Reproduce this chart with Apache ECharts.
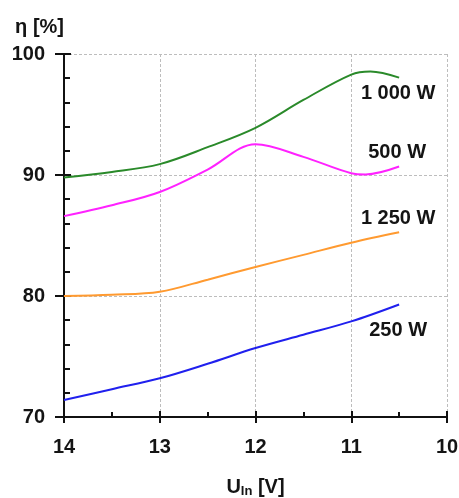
<!DOCTYPE html>
<html>
<head>
<meta charset="utf-8">
<script src="https://cdn.jsdelivr.net/npm/echarts@6/dist/echarts.min.js"></script>
<style>
  html, body { margin: 0; padding: 0; background: #fff; }
  #chart { width: 459px; height: 498px; }
</style>
</head>
<body>
<div id="chart"></div>
<script>
// Efficiency versus input voltage for four load levels
const voltage1000 = [14, 13.5, 13, 12.5, 12, 11.5, 11, 10.8, 10.5];
const eff1000     = [89.8, 90.25, 90.9, 92.3, 93.9, 96.2, 98.3, 98.55, 98.05];

const voltage500  = [14, 13.5, 13, 12.5, 12, 11.5, 11, 10.85, 10.5];
const eff500      = [86.6, 87.5, 88.6, 90.45, 92.55, 91.5, 90.15, 90.05, 90.7];

const voltage1250 = [14, 13.5, 13, 12.5, 12, 11.5, 11, 10.5];
const eff1250     = [80.0, 80.1, 80.35, 81.35, 82.4, 83.4, 84.4, 85.26];

const voltage250  = [14, 13.5, 13, 12.5, 12, 11.5, 11, 10.5];
const eff250      = [71.4, 72.3, 73.2, 74.4, 75.7, 76.8, 77.9, 79.3];

const seriesNames = ['1 000 W', '500 W', '1 250 W', '250 W'];
const xTicks = [14, 13, 12, 11, 10];
const yTicks = [70, 80, 90, 100];

const FONT = 'Liberation Sans, Arial, sans-serif';
const TEXT = '#141414';

function buildSeries(name, xs, ys, color, labelOffset) {
  const last = xs.length - 1;
  return {
    name: name,
    type: 'line',
    xAxisIndex: 0,
    yAxisIndex: 0,
    smooth: 0.35,
    showSymbol: false,
    lineStyle: { color: color, width: 2 },
    itemStyle: { color: color },
    emphasis: { disabled: true },
    data: xs.map((x, i) => [x, ys[i]]),
    // series name written beside the curve's last point
    markPoint: {
      symbol: 'circle',
      symbolSize: 1,
      silent: true,
      itemStyle: { color: 'rgba(0,0,0,0)' },
      label: {
        show: true,
        formatter: name,
        position: 'inside',
        offset: labelOffset,
        color: TEXT,
        fontFamily: FONT,
        fontWeight: 'bold',
        fontSize: 20
      },
      data: [{ coord: [xs[last], ys[last]] }]
    },
    z: 3
  };
}

const tick = (len, inside, width) => ({
  show: true, inside: inside, length: len, lineStyle: { color: '#111', width: width }
});

const chart = echarts.init(document.getElementById('chart'), null, { renderer: 'canvas' });

chart.setOption({
  animation: false,
  backgroundColor: '#fff',
  grid: { left: 64, right: 12, top: 54, bottom: 81, outerBoundsMode: 'none', containLabel: false },
  xAxis: [
    {
      type: 'value', inverse: true, min: 10, max: 14, interval: 1,
      axisLine: { show: true, lineStyle: { color: '#111', width: 2 } },
      axisTick: tick(6, false, 2),
      axisLabel: {
        margin: 20, color: TEXT, fontFamily: FONT, fontWeight: 'bold', fontSize: 20,
        formatter: v => xTicks.includes(v) ? String(v) : ''
      },
      splitLine: { show: true, lineStyle: { color: '#bdbdbd', type: [3, 2], width: 1 } },
      name: 'U{sub|In} [V]',
      nameLocation: 'middle',
      nameGap: 70,
      nameTextStyle: {
        color: TEXT, fontFamily: FONT, fontWeight: 'bold', fontSize: 20, verticalAlign: 'middle',
        rich: { sub: { fontFamily: FONT, fontWeight: 'bold', fontSize: 13, color: TEXT, padding: [9, 0, 0, 0] } }
      }
    },
    {
      // inner ticks and half-volt minor ticks
      type: 'value', inverse: true, min: 10, max: 14, interval: 1, position: 'bottom',
      axisLine: { show: false },
      axisTick: tick(6, true, 2),
      minorTick: { show: true, splitNumber: 2, length: 5, lineStyle: { color: '#111', width: 2 } },
      axisLabel: { show: false },
      splitLine: { show: false }
    }
  ],
  yAxis: [
    {
      type: 'value', min: 70, max: 100, interval: 10,
      axisLine: { show: true, lineStyle: { color: '#111', width: 2 } },
      axisTick: tick(9, false, 2),
      axisLabel: {
        margin: 19, color: TEXT, fontFamily: FONT, fontWeight: 'bold', fontSize: 20,
        formatter: v => yTicks.includes(v) ? String(v) : ''
      },
      splitLine: { show: true, lineStyle: { color: '#bdbdbd', type: [3, 2], width: 1 } },
      name: 'η [%]',
      nameLocation: 'end',
      nameGap: 27,
      nameTextStyle: { color: TEXT, fontFamily: FONT, fontWeight: 'bold', fontSize: 20, align: 'right', verticalAlign: 'middle' }
    },
    {
      // inner ticks and 2 % minor ticks
      type: 'value', min: 70, max: 100, interval: 10, position: 'left',
      axisLine: { show: false },
      axisTick: tick(7, true, 2),
      minorTick: { show: true, splitNumber: 5, length: 6, lineStyle: { color: '#111', width: 2 } },
      axisLabel: { show: false },
      splitLine: { show: false }
    }
  ],
  series: [
    buildSeries(seriesNames[0], voltage1000, eff1000, '#2a8a2a', [-1, 16]),
    buildSeries(seriesNames[1], voltage500, eff500, '#ff22ff', [-2, -14]),
    buildSeries(seriesNames[2], voltage1250, eff1250, '#ff9a30', [-1, -14]),
    buildSeries(seriesNames[3], voltage250, eff250, '#2020ee', [-1, 26])
  ]
});
</script>
</body>
</html>
